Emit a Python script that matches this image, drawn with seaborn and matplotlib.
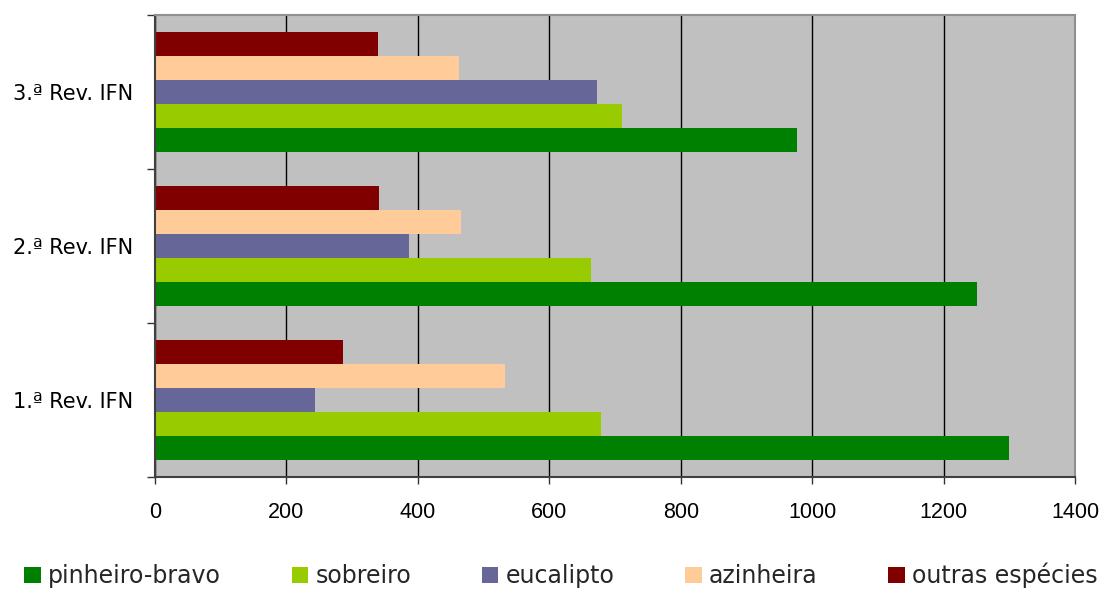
import matplotlib
matplotlib.use("Agg")
import matplotlib.pyplot as plt
from matplotlib.patches import Patch
from matplotlib.ticker import FixedLocator
import seaborn as sns
import pandas as pd

# Inventory revisions and species
revisions = ["3.ª Rev. IFN", "2.ª Rev. IFN", "1.ª Rev. IFN"]
species = ["pinheiro-bravo", "sobreiro", "eucalipto", "azinheira", "outras espécies"]
colors = ["#008000", "#99CC00", "#666699", "#FFCC99", "#800000"]

# Area values per species, in the order of `revisions`
pinheiro_bravo = [977, 1251, 1300]
sobreiro = [711, 664, 679]
eucalipto = [673, 387, 244]
azinheira = [463, 466, 533]
outras_especies = [340, 341, 286]

x_ticks = [0, 200, 400, 600, 800, 1000, 1200, 1400]

series = [pinheiro_bravo, sobreiro, eucalipto, azinheira, outras_especies]
rows = []
for sp, vals in zip(species, series):
    for rev, v in zip(revisions, vals):
        rows.append({"rev": rev, "especie": sp, "valor": v})
df = pd.DataFrame(rows)

sns.set_theme(style="white")
plt.rcParams["font.family"] = ["DejaVu Sans"]

fig = plt.figure(figsize=(11.04, 5.90), dpi=100)
ax = fig.add_axes([155 / 1104, 1 - 477 / 590, 920 / 1104, 462 / 590])
ax.set_facecolor("#C0C0C0")

# top-to-bottom within each group: outras ... pinheiro
hue_order = species[::-1]
palette = dict(zip(species, colors))
sns.barplot(data=df, y="rev", x="valor", hue="especie", order=revisions,
            hue_order=hue_order, palette=palette, orient="h", width=0.78,
            saturation=1, edgecolor="none", linewidth=0, legend=False, ax=ax,
            errorbar=None)

ax.set_xlim(0, 1400)
ax.set_ylim(2.5, -0.5)
ax.set_xticks(x_ticks)
ax.set_xticklabels([str(t) for t in x_ticks])
ax.xaxis.grid(True, color="black", linewidth=1)
ax.set_axisbelow(True)
ax.set_xlabel("")
ax.set_ylabel("")

# group boundaries get tick marks, labels sit at group centres
ax.yaxis.set_major_locator(FixedLocator([-0.5, 0.5, 1.5, 2.5]))
ax.set_yticklabels([])
ax.yaxis.set_minor_locator(FixedLocator([0, 1, 2]))
ax.set_yticklabels(revisions, minor=True)
ax.tick_params(axis="y", which="major", length=6, width=1, color="#333333", direction="out", left=True)
ax.tick_params(axis="y", which="minor", length=0, pad=16, labelsize=15, labelcolor="black")
ax.tick_params(axis="x", which="major", length=5, width=1, color="#333333", direction="out",
               bottom=True, pad=13, labelsize=15.5, labelcolor="black")
for lbl in ax.get_xticklabels():
    lbl.set_fontfamily("Liberation Sans")

for side in ["left", "bottom"]:
    ax.spines[side].set_color("#404040")
    ax.spines[side].set_linewidth(1.5)
for side in ["top", "right"]:
    ax.spines[side].set_color("#909090")
    ax.spines[side].set_linewidth(1.5)

handles = [Patch(facecolor=c, edgecolor="none", label=s) for s, c in zip(species, colors)]
fig.legend(handles=handles, loc="lower center", bbox_to_anchor=(0.508, -0.033), ncol=5,
           frameon=False, handlelength=0.7, handleheight=0.7, handletextpad=0.3,
           columnspacing=3.0, prop={"family": "DejaVu Sans", "size": 17})

fig.savefig("out.png", dpi=100)
